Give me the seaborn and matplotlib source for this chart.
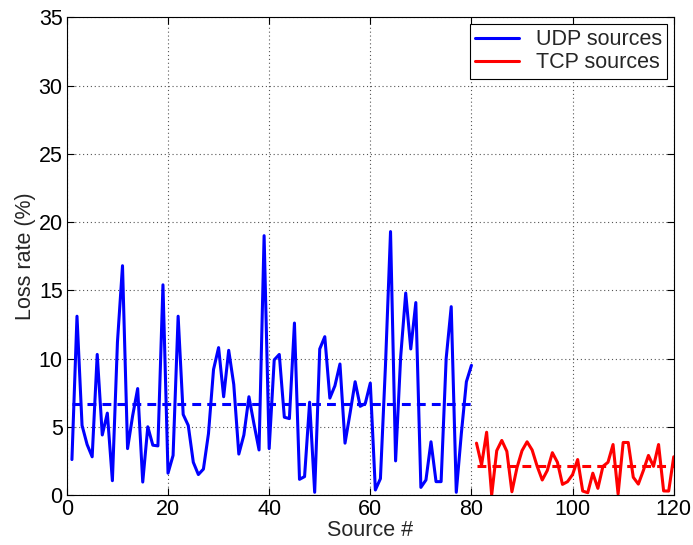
import matplotlib
matplotlib.use("Agg")
import matplotlib.pyplot as plt
import seaborn as sns
import pandas as pd
import numpy as np

# ---- data ----
udp_sources = list(range(1, 81))
udp_loss = [2.6, 13.1, 5.1, 3.7, 2.8, 10.3, 4.4, 6.0, 1.05, 11.2,
            16.8, 3.4, 5.8, 7.8, 0.95, 5.0, 3.65, 3.6, 15.4, 1.6,
            2.9, 13.1, 5.9, 5.1, 2.4, 1.5, 1.9, 4.5, 9.2, 10.8,
            7.2, 10.6, 8.1, 3.0, 4.4, 7.2, 5.2, 3.3, 19.0, 3.4,
            9.9, 10.3, 5.7, 5.6, 12.6, 1.15, 1.35, 6.8, 0.2, 10.7,
            11.6, 7.1, 8.0, 9.6, 3.8, 6.0, 8.3, 6.5, 6.7, 8.2,
            0.37, 1.2, 9.5, 19.3, 2.5, 10.1, 14.8, 10.7, 14.1, 0.56,
            1.1, 3.9, 0.98, 0.98, 10.0, 13.8, 0.2, 4.5, 8.3, 9.5]
tcp_sources = list(range(81, 121))
tcp_loss = [3.8, 2.2, 4.6, 0.0, 3.25, 4.0, 3.2, 0.24, 2.0, 3.25,
            3.9, 3.3, 2.1, 1.1, 1.8, 3.1, 2.4, 0.78, 0.98, 1.5,
            2.6, 0.29, 0.17, 1.6, 0.49, 2.1, 2.4, 3.7, 0.07, 3.85,
            3.85, 1.3, 0.8, 1.8, 2.9, 2.1, 3.7, 0.3, 0.29, 2.8]
udp_mean = 6.64
tcp_mean = 2.12
udp_mean_span = [1, 80]
tcp_mean_span = [81, 120]
x_ticks = [0, 20, 40, 60, 80, 100, 120]
y_ticks = [0, 5, 10, 15, 20, 25, 30, 35]

udp_df = pd.DataFrame({"src": udp_sources, "loss": udp_loss})
tcp_df = pd.DataFrame({"src": tcp_sources, "loss": tcp_loss})
udp_mean_df = pd.DataFrame({"src": udp_mean_span, "loss": [udp_mean] * 2})
tcp_mean_df = pd.DataFrame({"src": tcp_mean_span, "loss": [tcp_mean] * 2})

sns.set_theme(style="ticks")
plt.rcParams["font.family"] = ["Liberation Sans", "DejaVu Sans"]

fig = plt.figure(figsize=(6.93, 5.45), dpi=100)
ax = fig.add_axes([0.0965, 0.0917, 0.8757, 0.8766])

lw = 2.2
sns.lineplot(data=udp_df, x="src", y="loss", ax=ax, color="#0000ff", lw=lw,
             label="UDP sources")
sns.lineplot(data=tcp_df, x="src", y="loss", ax=ax, color="#ff0000", lw=lw,
             label="TCP sources")
sns.lineplot(data=udp_mean_df, x="src", y="loss", ax=ax, color="#0000ff", lw=lw,
             legend=False)
sns.lineplot(data=tcp_mean_df, x="src", y="loss", ax=ax, color="#ff0000", lw=lw,
             legend=False)
ax.lines[2].set_dashes([2.9, 2.0])
ax.lines[3].set_dashes([2.9, 2.0])

fs = 15.5
ax.set_xlim(0, 120)
ax.set_ylim(0, 35)
ax.set_xticks(x_ticks)
ax.set_yticks(y_ticks)
ax.set_xlabel("Source #", fontsize=fs, labelpad=0)
ax.set_ylabel("Loss rate (%)", fontsize=fs, labelpad=2)
ax.tick_params(direction="in", length=5, width=0.8, labelsize=fs, pad=3,
               top=True, right=True, colors="black")
ax.grid(True, linestyle=(0, (1, 2.5)), color="#555555", linewidth=0.8)
for s in ax.spines.values():
    s.set_visible(True)
    s.set_color("black")
    s.set_linewidth(0.8)

leg = ax.legend(loc="upper right", fontsize=fs, frameon=True, fancybox=False,
                borderaxespad=0.3, handlelength=2.0, handletextpad=0.8,
                borderpad=0.25, labelspacing=0.1)
leg.get_frame().set_edgecolor("black")
leg.get_frame().set_linewidth(0.8)
leg.get_frame().set_alpha(1)

fig.savefig("out.png", dpi=100)
